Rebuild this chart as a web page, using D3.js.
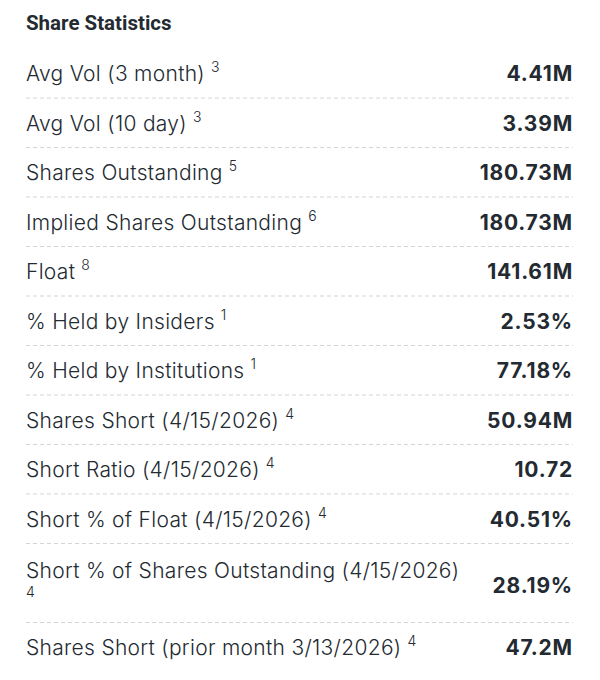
<!DOCTYPE html>
<html>
<head>
<meta charset="utf-8">
<script src="https://cdn.jsdelivr.net/npm/d3@7"></script>
<style>
  html, body { margin: 0; padding: 0; background: #fff; }
  svg { display: block; }
</style>
</head>
<body>
<div id="chart"></div>
<script>
// table content
const title = "Share Statistics";
const labels = [
  "Avg Vol (3 month)",
  "Avg Vol (10 day)",
  "Shares Outstanding",
  "Implied Shares Outstanding",
  "Float",
  "% Held by Insiders",
  "% Held by Institutions",
  "Shares Short (4/15/2026)",
  "Short Ratio (4/15/2026)",
  "Short % of Float (4/15/2026)",
  "Short % of Shares Outstanding (4/15/2026)",
  "Shares Short (prior month 3/13/2026)"
];
const notes = ["3", "3", "5", "6", "8", "1", "1", "4", "4", "4", "4", "4"];
const values = ["4.41M", "3.39M", "180.73M", "180.73M", "141.61M", "2.53%", "77.18%",
                "50.94M", "10.72", "40.51%", "28.19%", "47.2M"];

const W = 600, H = 680;
const left = 26, right = 573;
const labelMax = 440;          // room for label + footnote before it wraps
const rowH = 49.5, wrapH = 79;
const topY = 48.5;
const ink = "#232a31";
const labelFont = "Inter, sans-serif";

const svg = d3.select("#chart").append("svg")
  .attr("width", W)
  .attr("height", H);

svg.append("text")
  .attr("x", left)
  .attr("y", 30)
  .attr("font-family", "Roboto, sans-serif")
  .attr("font-weight", 700)
  .attr("font-size", "20.5px")
  .attr("fill", ink)
  .text(title);

// label style shared by the probe and the rows
function labelStyle(sel) {
  return sel.attr("font-family", labelFont)
    .attr("font-weight", 300)
    .attr("font-size", "21px")
    .attr("letter-spacing", "0.3px");
}

// measure each label to know if the footnote drops to a second line
const probe = labelStyle(svg.append("text"));
const wraps = labels.map(l => {
  probe.text(l);
  return probe.node().getComputedTextLength() + 16 > labelMax;
});
probe.remove();

const heights = wraps.map(w => w ? wrapH : rowH);
const starts = heights.map((h, i) => topY + d3.sum(heights.slice(0, i)));

const rows = svg.selectAll("g.row")
  .data(labels.map((l, i) => ({label: l, note: notes[i], value: values[i], wrap: wraps[i], y: starts[i], h: heights[i]})))
  .enter()
  .append("g")
  .attr("class", "row")
  .attr("transform", d => `translate(0,${d.y})`);

const lab = labelStyle(rows.append("text"))
  .attr("x", left)
  .attr("y", d => d.wrap ? 34.5 : 32.5)
  .attr("fill", ink);

lab.append("tspan").text(d => d.label);

// footnote: raised on the same line, or on its own line when wrapped
lab.append("tspan")
  .attr("x", d => d.wrap ? left : null)
  .attr("dx", d => d.wrap ? 0 : 6)
  .attr("dy", d => d.wrap ? 19 : -9)
  .attr("font-size", "14px")
  .text(d => d.note);

rows.append("text")
  .attr("x", right)
  .attr("y", d => d.wrap ? 49.5 : 32.5)
  .attr("text-anchor", "end")
  .attr("font-family", labelFont)
  .attr("font-weight", 700)
  .attr("font-size", "21px")
  .attr("letter-spacing", "0.8px")
  .attr("fill", ink)
  .text(d => d.value);

// dashed separators under every row but the last
rows.filter((d, i) => i < labels.length - 1)
  .append("line")
  .attr("x1", left)
  .attr("x2", right)
  .attr("y1", d => d.h)
  .attr("y2", d => d.h)
  .attr("stroke", "#d3d5d8")
  .attr("stroke-width", 1)
  .attr("stroke-dasharray", "4,3");
</script>
</body>
</html>
